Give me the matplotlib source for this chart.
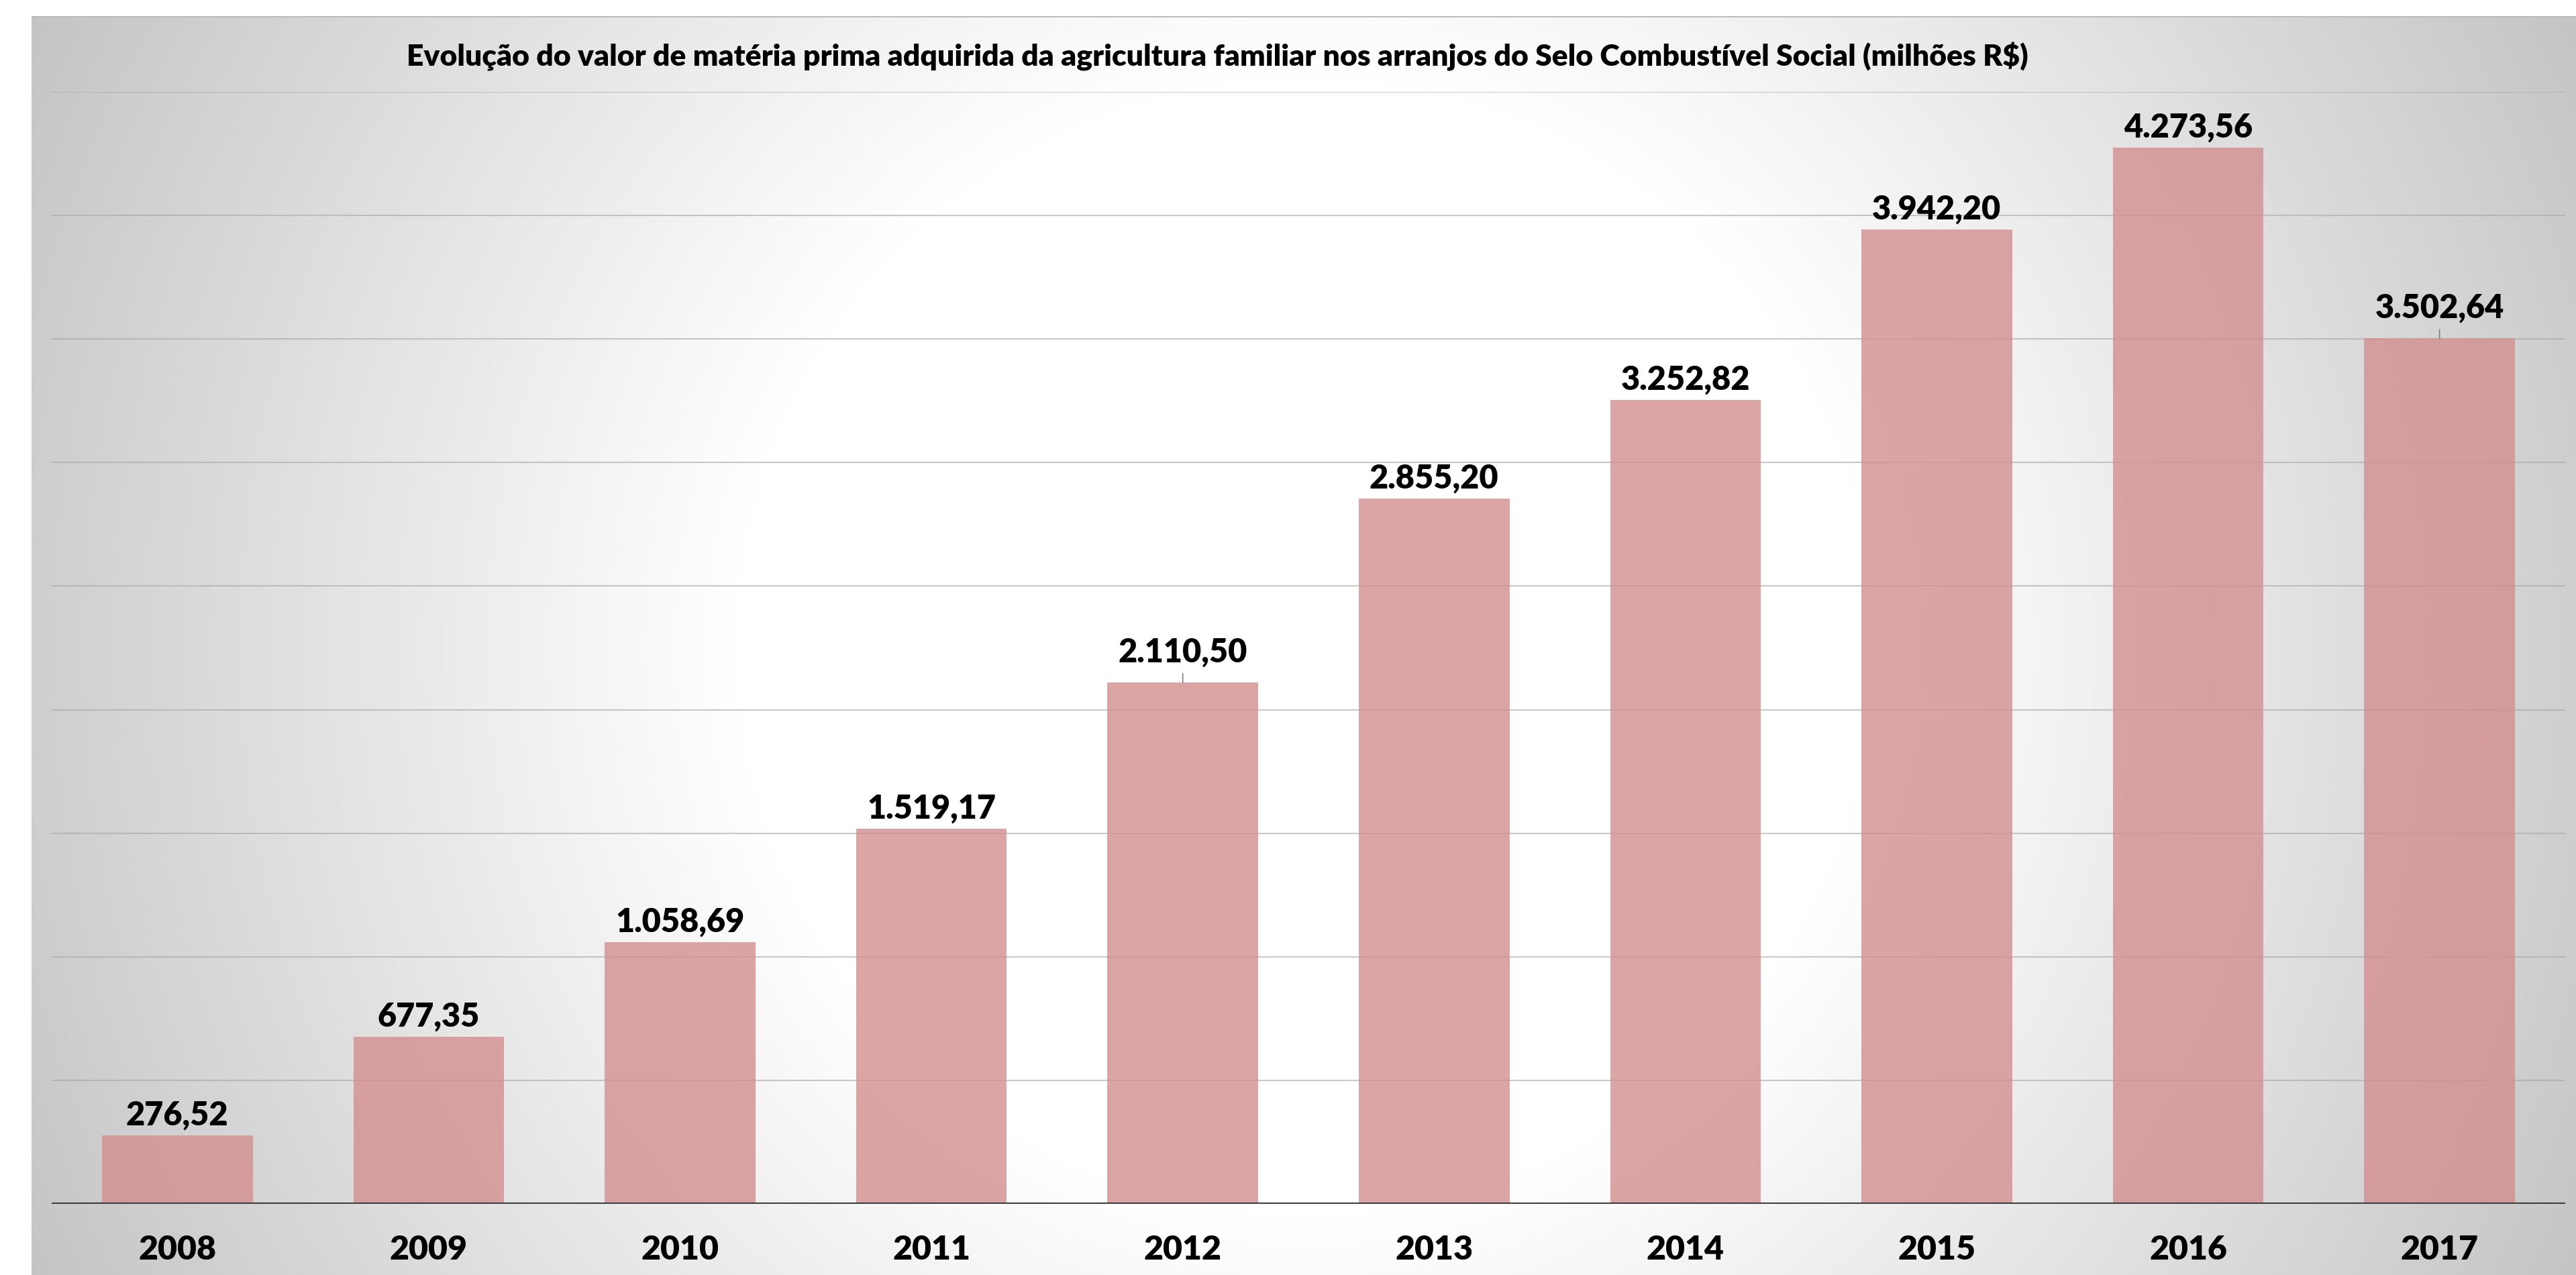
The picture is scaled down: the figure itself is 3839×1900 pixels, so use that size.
import matplotlib
matplotlib.use('Agg')
import matplotlib.pyplot as plt
import numpy as np

years = ['2008', '2009', '2010', '2011', '2012', '2013', '2014', '2015', '2016', '2017']
values = [276.52, 677.35, 1058.69, 1519.17, 2110.50, 2855.20, 3252.82, 3942.20, 4273.56, 3502.64]
title = ('Evolução do valor de matéria prima adquirida da agricultura familiar '
         'nos arranjos do Selo Combustível Social (milhões R$)')
# labels that Excel pushed up and tied back with a leader line
leader_years = ['2012', '2017']

W, H, DPI = 3839, 1900, 100
plt.rcParams['font.family'] = ['Lato', 'DejaVu Sans']

fig = plt.figure(figsize=(W / DPI, H / DPI), dpi=DPI)
fig.patch.set_facecolor('white')

# radial grey-to-white background of the chart area
bx0, by1 = 47, 24
bg = fig.add_axes([bx0 / W, 0, 1 - bx0 / W, 1 - by1 / H], zorder=0)
gw, gh = W - bx0, H - by1
yy, xx = np.mgrid[0:gh:4, 0:gw:4]
r = np.hypot(xx - gw / 2, yy - gh / 2)
t = np.clip((r - 850) / (2150 - 850), 0, 1)
shade = (255 - 60 * t) / 255
bg.imshow(np.dstack([shade] * 3), aspect='auto', interpolation='bilinear',
          extent=[0, 1, 0, 1])
bg.set_axis_off()
bg.axhline(1, color='#b8b8b8', lw=2)

ax = fig.add_axes([77 / W, 1 - 1794 / H, (3823 - 77) / W, (1794 - 137) / H], zorder=1)
ax.patch.set_alpha(0)
x = np.arange(len(years))
ax.set_xlim(-0.5, len(years) - 0.5)
ax.set_ylim(0, 4500)
ax.set_yticks(np.arange(500, 4501, 500))
ax.yaxis.grid(True, color='#a6a6a6', alpha=0.6, lw=1.5)
ax.set_axisbelow(True)
ax.tick_params(axis='y', left=False, labelleft=False)
for s in ax.spines.values():
    s.set_visible(False)

ax.bar(x, values, width=0.6, color='#d48f8f', alpha=0.8, zorder=2)
ax.axhline(0, color='#404040', lw=3, zorder=3)

for xi, yr, v in zip(x, years, values):
    txt = f'{v:,.2f}'.replace(',', 'X').replace('.', ',').replace('X', '.')
    off = 22 if yr in leader_years else 11
    ax.annotate(txt, (xi, v), xytext=(0, off), textcoords='offset points',
                ha='center', va='baseline', fontsize=35, fontweight='heavy', zorder=4)
    if yr in leader_years:
        ax.annotate('', (xi, v), xytext=(0, 9.5), textcoords='offset points',
                    arrowprops=dict(arrowstyle='-', color='#7f7f7f', lw=1.2,
                                    shrinkA=0, shrinkB=0))

ax.set_xticks(x)
ax.set_xticklabels(years, fontsize=36, fontweight='heavy')
ax.tick_params(axis='x', length=0, pad=33)

fig.text(1814 / W, 1 - 99 / H, title, ha='center', va='baseline',
         fontsize=32, fontweight='heavy')

fig.savefig('out.png', dpi=DPI)
